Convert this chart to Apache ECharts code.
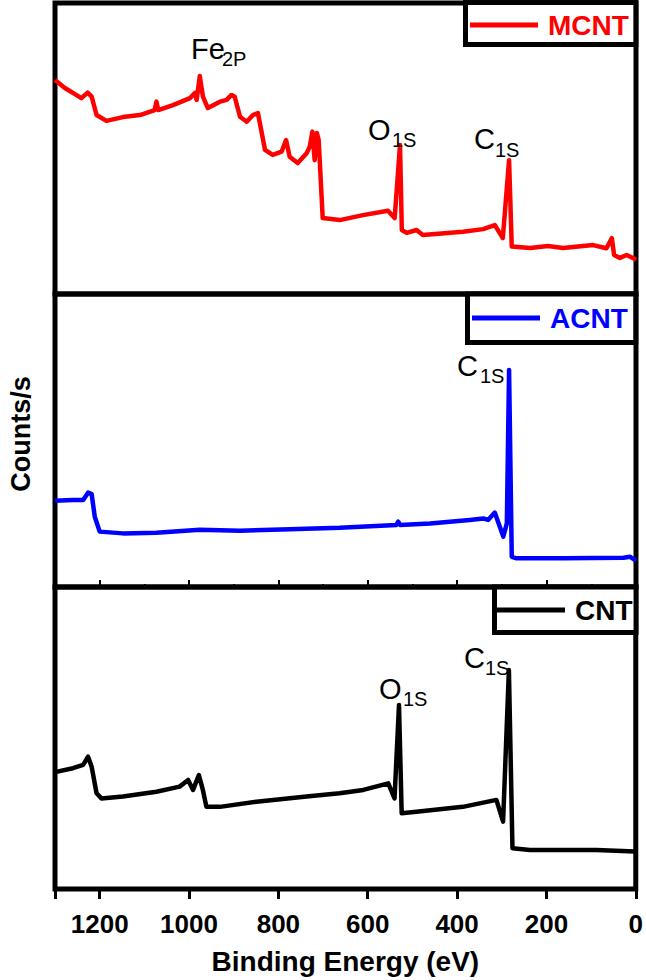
<!DOCTYPE html>
<html>
<head>
<meta charset="utf-8">
<script src="https://cdn.jsdelivr.net/npm/echarts@6/dist/echarts.min.js"></script>
<style>
html,body{margin:0;padding:0;background:#fff;}
#chart{width:646px;height:980px;}
</style>
</head>
<body>
<div id="chart"></div>
<script>
// ---- data (Binding energy in eV, intensity in arbitrary counts/s units per panel) ----
var mcntEnergy = [1300,1278,1260,1241,1227,1218,1207,1185,1148,1110,1077,1073,1069,1036,998,987,983,976,969,958,931,916,905,898,886,871,857,846,830,813,793,783,775,757,737,730,724,719,714,710,701,663,611,555,540,528,524,513,491,477,387,342,316,298,284,278,237,197,163,96,66,54,49,36,21,7,0];
var mcntCounts = [73.5,70.8,69.1,67.3,69.2,67.8,61.5,59.5,60.8,61.5,63.2,66.1,63.2,64.9,67.3,69.1,66.7,74.9,67.8,63.9,66.1,66.7,68.4,67.8,60.9,59.2,61.5,62.2,49.5,47.8,48.9,52.9,47.2,45.0,48.4,50.6,55.8,46.0,55.3,52.9,26.1,25.4,27.1,28.6,26.1,51.2,22.0,21.0,22.0,20.3,21.4,22.3,23.7,19.2,46.0,16.3,15.8,16.5,15.8,16.8,15.7,19.2,13.4,12.4,13.4,12.4,11.7];

var acntEnergy = [1300,1260,1237,1226,1218,1211,1200,1148,1073,976,886,775,663,536,532,528,461,372,342,331,316,297,289,284,278,267,163,28,13,0];
var acntCounts = [29.4,29.7,29.7,32.2,31.7,24.0,18.9,18.3,18.5,19.5,19.2,19.7,20.2,21.2,22.3,21.2,21.7,22.9,23.4,22.9,25.4,17.2,21.7,74.1,10.3,9.8,9.8,10.0,10.3,9.0];

var cntEnergy = [1300,1260,1237,1226,1218,1207,1196,1148,1073,1021,1002,991,978,969,961,931,849,737,663,610,554,540,530,524,491,387,312,297,284,276,237,88,2,0];
var cntCounts = [38.7,40.0,41.1,43.8,40.5,31.7,30.0,30.6,32.2,33.9,36.1,32.8,37.7,32.8,27.2,27.2,28.9,30.6,31.7,32.8,35.0,30.0,60.9,25.1,25.6,27.2,29.5,22.3,72.5,13.5,12.9,12.9,12.4,12.2];

var xTicks = [0,200,400,600,800,1000,1200];
var seriesNames = ['MCNT','ACNT','CNT'];
var seriesColors = ['#ff0000','#0000ff','#000000'];

function zip(a,b){ return a.map(function(v,i){ return [v,b[i]]; }); }

var FONT = 'Liberation Sans, Arial, sans-serif';
var grids = [
  {left:55, right:10, top:3, height:291},
  {left:55, right:10, top:294, height:293},
  {left:55, right:10, top:587, height:302}
].map(function(g){ return Object.assign(g,{show:true, borderColor:'#000', borderWidth:5, backgroundColor:'transparent'}); });

function xAxisFor(i){
  var ax = {type:'value', gridIndex:i, min:0, max:1300, interval:200, inverse:true,
    axisLine:{show:false}, splitLine:{show:false},
    axisLabel:{show:false}, axisTick:{show:false}};
  if(i===1){
    ax.axisTick = {show:true, inside:true, length:7, lineStyle:{color:'#000', width:2}};
    ax.minorTick = {show:true, splitNumber:2, length:3, lineStyle:{color:'#000', width:2}};
  }
  if(i===2){
    ax.axisTick = {show:true, inside:false, length:10, lineStyle:{color:'#000', width:3}};
    ax.axisLabel = {show:true, margin:22, fontSize:26, fontWeight:'bold', color:'#000', fontFamily:FONT,
      formatter:function(v){ return xTicks.indexOf(v) >= 0 ? String(v) : ''; }};
    ax.name = 'Binding Energy (eV)';
    ax.nameLocation = 'middle';
    ax.nameGap = 58;
    ax.nameTextStyle = {fontSize:28, fontWeight:'bold', color:'#000', fontFamily:FONT};
  }
  return ax;
}
function yAxisFor(i){
  return {type:'value', gridIndex:i, min:0, max:100, axisLine:{show:false}, axisTick:{show:false}, axisLabel:{show:false}, splitLine:{show:false}};
}

var dataSets = [zip(mcntEnergy,mcntCounts), zip(acntEnergy,acntCounts), zip(cntEnergy,cntCounts)];
var series = dataSets.map(function(d,i){
  return {name:seriesNames[i], type:'line', xAxisIndex:i, yAxisIndex:i, data:d,
    symbol:'none', showSymbol:false, smooth:false,
    lineStyle:{color:seriesColors[i], width:4.5, join:'round'}, itemStyle:{color:seriesColors[i]}};
});

var legendBoxes = [
  {left:465.5, top:2.5, padding:[8.5,7,5.5,4.5]},
  {left:467.5, top:294, padding:[10,8,10.5,4.5]},
  {left:494.5, top:587, padding:[9,3.5,8.5,2.5]}
];
var legends = legendBoxes.map(function(b,i){
  return {data:[{name:seriesNames[i], icon:'rect', itemStyle:{color:seriesColors[i]}}], left:b.left, top:b.top, padding:b.padding,
    orient:'horizontal', itemWidth:68, itemHeight:5, backgroundColor:'#fff',
    borderColor:'#000', borderWidth:5, borderRadius:0,
    textStyle:{color:seriesColors[i], fontSize:28, fontWeight:'bold', fontFamily:FONT, padding:[0,0,0,5], lineHeight:28}};
});

// peak annotations: [main, subscript, x, yMain, xSub, ySub]
var annotations = [
  ['Fe','2P',191,49,222,58.5],
  ['O','1S',368,130,392,140],
  ['C','1S',474,139,495,150],
  ['C','1S',457,366,480,376],
  ['O','1S',379,689,403,698.5],
  ['C','1S',464,657.5,485,667.5]
];
var graphics = [];
annotations.forEach(function(a){
  graphics.push({type:'text', x:a[2], y:a[3], style:{text:a[0], fill:'#000', font:'29px '+FONT, textAlign:'left', textVerticalAlign:'middle'}, z:10});
  graphics.push({type:'text', x:a[4], y:a[5], style:{text:a[1], fill:'#000', font:'20px '+FONT, textAlign:'left', textVerticalAlign:'middle'}, z:10});
});
graphics.push({type:'text', x:21, y:434, rotation:Math.PI/2, style:{text:'Counts/s', fill:'#000', font:'bold 27px '+FONT, textAlign:'center', textVerticalAlign:'middle'}, z:10});

var chart = echarts.init(document.getElementById('chart'), null, {renderer:'svg'});
chart.setOption({
  animation:false,
  backgroundColor:'#fff',
  grid:grids,
  xAxis:[0,1,2].map(xAxisFor),
  yAxis:[0,1,2].map(yAxisFor),
  legend:legends,
  series:series,
  graphic:graphics
});
</script>
</body>
</html>
